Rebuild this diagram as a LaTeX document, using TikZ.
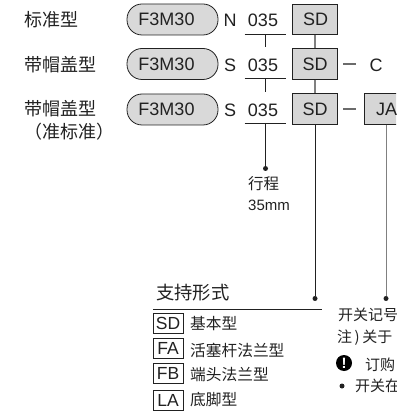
\documentclass[tikz,border=0pt]{standalone}
\usepackage{fontspec}
\setmainfont{Liberation Sans}
\newfontfamily\cjk{Noto Sans CJK SC}[Scale=1]
\usetikzlibrary{calc}
\definecolor{boxgray}{gray}{0.84}
\definecolor{pillgray}{gray}{0.85}
\definecolor{linegray}{gray}{0.5}
\definecolor{dashgray}{gray}{0.42}
\definecolor{inkc}{gray}{0.13}
\newcommand{\sz}[1]{\fontsize{#1}{#1}\selectfont}
\tikzset{
  lat/.style={text=inkc,inner sep=0pt,font=\sz{18}},
  cn/.style={text=inkc,inner sep=0pt,anchor=west,font=\cjk\sz{18}},
  cnsmall/.style={text=inkc,inner sep=0pt,anchor=west,font=\cjk\sz{15.7}},
  cnnote/.style={text=inkc,inner sep=0pt,anchor=west,font=\cjk\sz{15}},
  pill/.style={draw=inkc,line width=0.8pt,fill=pillgray,rounded corners=15pt,minimum width=91pt,minimum height=31pt,inner sep=0pt,text=inkc,font=\sz{18}},
  codebox/.style={draw=inkc,line width=0.9pt,fill=boxgray,minimum width=45pt,minimum height=30.5pt,inner sep=0pt,text=inkc,font=\sz{18}},
  legbox/.style={draw=inkc,line width=0.6pt,minimum width=30pt,minimum height=20pt,inner sep=0pt,text=inkc,font=\sz{17.5}},
  rule/.style={draw=inkc,line width=0.8pt},
  grayrule/.style={draw=linegray,line width=1.2pt},
  dashrule/.style={draw=dashgray,line width=1.4pt},
  tip/.style={circle,fill=inkc,minimum size=5pt,inner sep=0pt},
}
\begin{document}
\begin{tikzpicture}[x=1pt,y=-1pt]
\useasboundingbox (0,0) rectangle (396,411);
\clip (0,0) rectangle (396,411);
% row labels
\node[cn] (l1) at (24,20) {标准型};
\node[cn] (l2) at (24,65) {带帽盖型};
\node[cn] (l3) at (24,109) {带帽盖型};
\node[cn] (l4) at (24,132) {（准标准）};
% pills
\node[pill] (p1) at (172.5,19.5) {\hspace*{-12pt}F3M30};
\node[pill] (p2) at (172.5,64) {\hspace*{-12pt}F3M30};
\node[pill] (p3) at (172.5,109.5) {\hspace*{-12pt}F3M30};
% letters
\node[lat] (n1) at (230,20.5) {N};
\node[lat] (s2) at (230,65) {S};
\node[lat] (s3) at (230,110) {S};
% stroke
\node[lat] (c1) at (263,20.5) {035};
\node[lat] (c2) at (263,65) {035};
\node[lat] (c3) at (263,110) {035};
\coordinate (u1a) at (244.5,34.5); \coordinate (u1b) at (286,34.5); \coordinate (u1m) at (265.5,34.5);
\coordinate (u2a) at (244.5,78.5); \coordinate (u2b) at (286,78.5); \coordinate (u2m) at (265.5,78.5);
\coordinate (u3a) at (244.5,123); \coordinate (u3b) at (286,123); \coordinate (u3m) at (265.5,123);
\coordinate (v1e) at (265.5,47.5); \coordinate (v2e) at (265.5,92);
\draw[rule] (u1a) -- (u1b);
\draw[rule] (u2a) -- (u2b);
\draw[rule] (u3a) -- (u3b);
\draw[rule] (u1m) -- (v1e);
\draw[rule] (u2m) -- (v2e);
\node[tip] (d0) at (265.5,168.5) {};
\draw[rule] (u3m) -- (d0);
\node[cnsmall,font=\cjk\sz{15.5}] (t1) at (248,183.5) {行程};
\node[lat,anchor=west,font=\sz{15}] (t2) at (248,205) {35mm};
% code boxes
\node[codebox] (b1) at (314.5,19.5) {\hspace*{2pt}SD};
\node[codebox] (b2) at (314.5,64) {\hspace*{1pt}SD};
\node[codebox] (b3) at (314.5,109) {\hspace*{1pt}SD};
\draw[grayrule] (b1.south -| 315,0) -- (b2.north -| 315,0);
\draw[grayrule] (b2.south -| 315,0) -- (b3.north -| 315,0);
% dashes, C, JA
\coordinate (da) at (343,64); \coordinate (db) at (356,64);
\coordinate (dc) at (343,109); \coordinate (dd) at (356,109);
\draw[dashrule] (da) -- (db);
\draw[dashrule] (dc) -- (dd);
\node[lat] (cc) at (376,65.5) {C};
\node[codebox,anchor=west] (ja) at (364,109) {\hspace*{-0.5pt}JA};
% long leaders
\node[tip] (d1) at (315,298.5) {};
\node[tip] (d2) at (386,298.5) {};
\draw[rule,line width=0.9pt] (b3.south -| d1) -- (d1);
\draw[draw=linegray,line width=1pt] (ja.south -| d2) -- (d2);
% legend
\node[cn] (h) at (156,293) {\sz{18.3}支持形式};
\coordinate (ha) at (153,309); \coordinate (hb) at (322,309);
\draw[rule] (ha) -- (hb);
\node[legbox] (k1) at (168,323) {SD};
\node[legbox] (k2) at (168,348) {FA};
\node[legbox] (k3) at (168,373) {FB};
\node[legbox] (k4) at (168,400) {LA};
\node[cnsmall] (m1) at (190,324) {基本型};
\node[cnsmall] (m2) at (190,350) {活塞杆法兰型};
\node[cnsmall] (m3) at (190,375) {端头法兰型};
\node[cnsmall] (m4) at (190,400) {底脚型};
% right notes
\node[cnnote] (r1) at (338,315) {开关记号};
\node[cnnote] (r2) at (337,338) {注\,)\,关于};
\node[circle,fill=black,minimum size=16pt,inner sep=0pt,text=white,font=\bfseries\sz{15}] (w) at (344,363) {!};
\node[cnnote] (r3) at (365,365) {订购};
\node[circle,fill=inkc,minimum size=5pt,inner sep=0pt] (bu) at (342,386) {};
\node[cnnote] (r4) at (355,386) {开关在};
\end{tikzpicture}
\end{document}
